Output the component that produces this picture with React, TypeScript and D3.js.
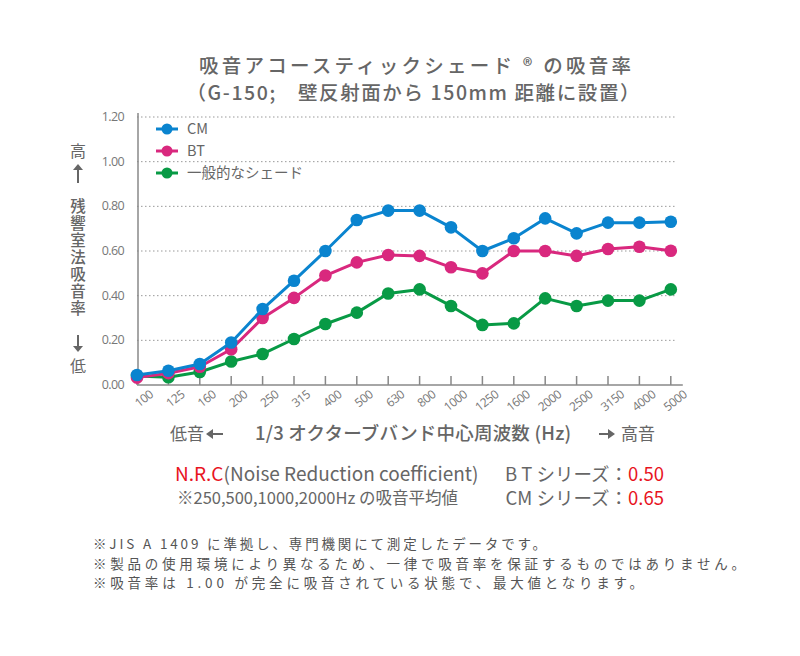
import { useEffect, useRef } from 'react';
import * as d3 from 'd3';

const bands = ['100', '125', '160', '200', '250', '315', '400', '500', '630', '800', '1000', '1250', '1600', '2000', '2500', '3150', '4000', '5000'];
const cmValues = [0.045, 0.064, 0.094, 0.19, 0.34, 0.467, 0.60, 0.739, 0.781, 0.781, 0.706, 0.60, 0.657, 0.746, 0.679, 0.727, 0.727, 0.731];
const btValues = [0.033, 0.053, 0.082, 0.16, 0.30, 0.39, 0.49, 0.549, 0.582, 0.578, 0.527, 0.50, 0.60, 0.60, 0.578, 0.609, 0.619, 0.601];
const generalValues = [0.04, 0.035, 0.058, 0.105, 0.139, 0.206, 0.273, 0.324, 0.41, 0.428, 0.354, 0.269, 0.276, 0.388, 0.354, 0.378, 0.378, 0.428];
const seriesNames = ['CM', 'BT', '一般的なシェード'];
const seriesColors = ['#0a84cf', '#d9287e', '#089a45'];
const yTicks = [0, 0.2, 0.4, 0.6, 0.8, 1.0, 1.2];
const yTitle = '残響室法吸音率';
const titleLines = ['吸音アコースティックシェード ® の吸音率', '（G-150;　壁反射面から 150mm 距離に設置）'];
const footnotes = [
  '※JIS A 1409 に準拠し、専門機関にて測定したデータです。',
  '※製品の使用環境により異なるため、一律で吸音率を保証するものではありません。',
  '※吸音率は 1.00 が完全に吸音されている状態で、最大値となります。'
];

const FONT = '"Noto Sans CJK JP", "Noto Sans", sans-serif';
const GRAY = '#666';

export default function App() {
  const svgRef = useRef<SVGSVGElement>(null);

  useEffect(() => {
    if (!svgRef.current) return;
    const svg = d3.select(svgRef.current);
    svg.selectAll('*').remove();

    const left = 137;
    const step = 31.4;
    const right = left + step * (bands.length - 1);
    const top = 117;
    const bottom = 385;

    const x = d3.scalePoint<string>().domain(bands).range([left, right]);
    const y = d3.scaleLinear().domain([0, 1.2]).range([bottom, top]);

    // Title
    const titleWidths = [432, 453];
    const title = svg.append('g').attr('font-family', FONT).attr('fill', GRAY).attr('font-weight', 500)
      .attr('font-size', 19.5).attr('text-anchor', 'middle');
    titleLines.forEach((t, i) => {
      title.append('text').attr('x', 415 - i * 2).attr('y', 73 + i * 27)
        .attr('textLength', titleWidths[i]).attr('lengthAdjust', 'spacing').text(t);
    });

    // Grid
    const grid = svg.append('g');
    yTicks.filter(t => t > 0).forEach(t => {
      grid.append('line')
        .attr('x1', left).attr('x2', right + 6)
        .attr('y1', y(t)).attr('y2', y(t))
        .attr('stroke', '#999').attr('stroke-width', 1).attr('stroke-dasharray', '1.5,2.5');
    });

    // Y tick labels
    const yl = svg.append('g').attr('font-family', '"Open Sans", sans-serif').attr('font-size', 12.5).attr('fill', '#777');
    yTicks.forEach(t => {
      yl.append('text').attr('x', 124).attr('y', y(t) + 4).attr('text-anchor', 'end')
        .attr('letter-spacing', -0.6).text(t.toFixed(2));
    });

    // Axes
    svg.append('line').attr('x1', left + 1).attr('x2', left + 1).attr('y1', top - 4).attr('y2', bottom)
      .attr('stroke', '#888').attr('stroke-width', 1.5);
    svg.append('line').attr('x1', left).attr('x2', right + 12).attr('y1', bottom).attr('y2', bottom)
      .attr('stroke', '#888').attr('stroke-width', 1.5);
    bands.forEach(b => {
      svg.append('line').attr('x1', x(b)!).attr('x2', x(b)!).attr('y1', bottom - 9).attr('y2', bottom)
        .attr('stroke', '#888').attr('stroke-width', 1.5);
    });

    // X tick labels
    const xl = svg.append('g').attr('font-family', '"Open Sans", sans-serif').attr('font-size', 12).attr('fill', '#777');
    bands.forEach(b => {
      const px = x(b)! + 17;
      xl.append('text').attr('transform', `translate(${px},${bottom + 11}) rotate(-38)`)
        .attr('text-anchor', 'end').attr('letter-spacing', -0.5).text(b);
    });

    // Lines
    const allSeries = [cmValues, btValues, generalValues];
    const line = d3.line<number>().x((_, i) => x(bands[i])!).y(d => y(d));
    const order = [2, 1, 0];
    order.forEach(si => {
      const g = svg.append('g');
      g.append('path').datum(allSeries[si]).attr('d', line)
        .attr('fill', 'none').attr('stroke', seriesColors[si]).attr('stroke-width', 3).attr('stroke-linejoin', 'round');
      g.selectAll('circle').data(allSeries[si]).enter().append('circle')
        .attr('cx', (_, i) => x(bands[i])!).attr('cy', d => y(d)).attr('r', 6.3)
        .attr('fill', seriesColors[si]);
    });

    // Legend
    const lg = svg.append('g').attr('font-family', FONT).attr('font-size', 14.5).attr('fill', GRAY);
    seriesNames.forEach((name, i) => {
      const ly = 129 + i * 22;
      lg.append('line').attr('x1', 156).attr('x2', 178).attr('y1', ly).attr('y2', ly)
        .attr('stroke', seriesColors[i]).attr('stroke-width', 3);
      lg.append('circle').attr('cx', 167).attr('cy', ly).attr('r', 5.5).attr('fill', seriesColors[i]);
      lg.append('text').attr('x', 187).attr('y', ly + 5).text(name);
    });

    // Y axis title
    const yt = svg.append('g').attr('font-family', FONT).attr('fill', GRAY).attr('text-anchor', 'middle');
    yt.append('text').attr('x', 78).attr('y', 157).attr('font-size', 16).text('高');
    yt.append('text').attr('x', 78).attr('y', 372).attr('font-size', 16).text('低');
    yt.append('text').attr('x', 78).attr('y', 198)
      .attr('font-size', 15.5).attr('font-weight', 500)
      .attr('letter-spacing', 1.6)
      .attr('text-anchor', 'start')
      .style('writing-mode', 'vertical-rl')
      .text(yTitle);
    const arrow = (yFrom: number, yTo: number) => {
      const dir = Math.sign(yTo - yFrom);
      svg.append('line').attr('x1', 78).attr('x2', 78).attr('y1', yFrom).attr('y2', yTo - dir * 5)
        .attr('stroke', GRAY).attr('stroke-width', 2);
      svg.append('path')
        .attr('d', `M${73},${yTo - dir * 6} L${83},${yTo - dir * 6} L78,${yTo} Z`)
        .attr('fill', GRAY);
    };
    arrow(183, 164);
    arrow(335, 352);

    // X axis title
    const xt = svg.append('g').attr('font-family', FONT).attr('fill', GRAY);
    xt.append('text').attr('x', 170).attr('y', 440).attr('font-size', 17).text('低音');
    xt.append('text').attr('x', 255).attr('y', 440).attr('font-size', 18.5).attr('font-weight', 500)
      .attr('letter-spacing', 0.2)
      .text('1/3 オクターブバンド中心周波数 (Hz)');
    xt.append('text').attr('x', 621).attr('y', 440).attr('font-size', 17).text('高音');
    const hArrow = (xFrom: number, xTo: number) => {
      const dir = Math.sign(xTo - xFrom);
      svg.append('line').attr('x1', xFrom).attr('x2', xTo - dir * 5).attr('y1', 434).attr('y2', 434)
        .attr('stroke', GRAY).attr('stroke-width', 2);
      svg.append('path')
        .attr('d', `M${xTo - dir * 7},429 L${xTo - dir * 7},439 L${xTo},434 Z`)
        .attr('fill', GRAY);
    };
    hArrow(223, 206);
    hArrow(599, 615);

    // NRC
    const nrc = svg.append('g').attr('font-family', FONT).attr('fill', GRAY);
    const t1 = nrc.append('text').attr('x', 175).attr('y', 481).attr('font-size', 19);
    t1.append('tspan').attr('fill', '#e8141e').text('N.R.C');
    t1.append('tspan').text('(Noise Reduction coefficient)');
    nrc.append('text').attr('x', 177).attr('y', 504).attr('font-size', 16.5).text('※250,500,1000,2000Hz の吸音平均値');
    const t2 = nrc.append('text').attr('x', 664).attr('y', 481).attr('font-size', 18.5).attr('text-anchor', 'end');
    t2.append('tspan').text('B T シリーズ：');
    t2.append('tspan').attr('fill', '#e8141e').text('0.50');
    const t3 = nrc.append('text').attr('x', 664).attr('y', 505).attr('font-size', 18.5).attr('text-anchor', 'end');
    t3.append('tspan').text('CM シリーズ：');
    t3.append('tspan').attr('fill', '#e8141e').text('0.65');

    // Footnotes
    const footWidths = [453, 652, 550];
    const fn = svg.append('g').attr('font-family', FONT).attr('fill', '#555').attr('font-size', 13.5);
    footnotes.forEach((f, i) => {
      fn.append('text').attr('x', 93).attr('y', 549 + i * 19.5)
        .attr('textLength', footWidths[i]).attr('lengthAdjust', 'spacing').text(f);
    });
  }, []);

  return (
    <div style={{ position: 'absolute', left: 0, top: 0, width: 800, height: 656, background: '#fff' }}>
      <svg ref={svgRef} width={800} height={656}></svg>
    </div>
  );
}
